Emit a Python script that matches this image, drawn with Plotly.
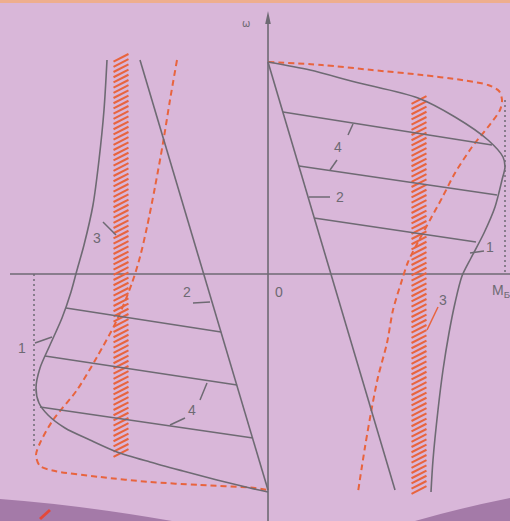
import numpy as np
import plotly.graph_objects as go

# Torque–speed characteristics, units: M (torque) horizontal, omega (speed) vertical
GRAY = "#6e6a73"
RED = "#e8643e"
BG = "#d9b7d9"

# ---------- right half (motor mode) ----------
r_curve1_M = [0.00, 0.42, 0.87, 1.50, 1.87, 2.20, 2.35, 2.37, 2.34, 2.27, 2.16, 2.03,
              1.94, 1.87, 1.81, 1.75, 1.70, 1.65, 1.63]
r_curve1_w = [2.12, 2.04, 1.92, 1.76, 1.57, 1.34, 1.17, 1.07, 0.94, 0.67, 0.41, 0.16,
              -0.02, -0.29, -0.59, -0.96, -1.36, -1.86, -2.18]

r_line2_M = [0.00, 1.27]
r_line2_w = [2.12, -2.16]

r_dash_M = [0.00, 0.54, 1.04, 1.54, 1.94, 2.20, 2.31, 2.34, 2.32, 2.20, 2.04, 1.87,
            1.74, 1.62, 1.50, 1.40, 1.34, 1.25, 1.19, 1.10, 1.04, 0.97, 0.90]
r_dash_w = [2.12, 2.09, 2.04, 1.99, 1.94, 1.89, 1.83, 1.74, 1.64, 1.47, 1.27, 1.01,
            0.76, 0.54, 0.32, 0.12, -0.06, -0.36, -0.69, -1.03, -1.33, -1.73, -2.18]

r_band_M = 1.51
r_band_w = [1.77, -2.16]

r_rungs_M = [[0.15, 2.24], [0.31, 2.29], [0.46, 2.08]]
r_rungs_w = [[1.62, 1.29], [1.08, 0.79], [0.56, 0.32]]

r_dotted_M = [2.37, 2.37]
r_dotted_w = [1.74, 0.02]

# ---------- left half (reverse / braking) ----------
l_curve1_M = [-1.61, -1.64, -1.69, -1.75, -1.84, -1.91, -1.97, -2.06, -2.18, -2.28,
              -2.32, -2.29, -2.20, -2.03, -1.78, -1.51, -1.18, -0.85, -0.51, -0.18, 0.00]
l_curve1_w = [2.14, 1.64, 1.14, 0.69, 0.29, 0.04, -0.18, -0.44, -0.71, -0.94,
              -1.14, -1.29, -1.41, -1.54, -1.66, -1.78, -1.88, -1.97, -2.06, -2.14, -2.18]

l_line2_M = [-1.28, 0.00]
l_line2_w = [2.14, -2.16]

l_dash_M = [-0.91, -0.98, -1.05, -1.13, -1.21, -1.28, -1.36, -1.51, -1.71, -1.91,
            -2.15, -2.28, -2.32, -2.28, -2.13, -1.68, -1.18, -0.68, -0.13, 0.00]
l_dash_w = [2.14, 1.74, 1.31, 0.87, 0.47, 0.17, -0.09, -0.46, -0.83, -1.16,
            -1.46, -1.69, -1.81, -1.92, -1.97, -2.03, -2.08, -2.11, -2.14, -2.16]

l_band_M = -1.47
l_band_w = [2.17, -1.79]

l_rungs_M = [[-2.02, -0.47], [-2.23, -0.31], [-2.28, -0.15]]
l_rungs_w = [[-0.34, -0.58], [-0.82, -1.11], [-1.33, -1.64]]

l_dotted_M = [-2.34, -2.34]
l_dotted_w = [0.00, -1.74]

# curve number labels: (text, M, omega)
labels = [("4", 0.70, 1.27), ("2", 0.72, 0.77), ("1", 2.22, 0.27), ("3", 1.75, -0.26),
          ("4", -0.76, -1.36), ("2", -0.81, -0.18), ("1", -2.46, -0.74), ("3", -1.71, 0.36)]
# leader strokes: (M0, w0, M1, w1, colour)
leaders = [(0.85, 1.50, 0.80, 1.39, GRAY), (0.69, 1.14, 0.62, 1.04, GRAY),
           (0.41, 0.77, 0.62, 0.77, GRAY), (2.02, 0.21, 2.16, 0.23, GRAY),
           (1.70, -0.33, 1.59, -0.56, RED),
           (-0.61, -1.09, -0.68, -1.26, GRAY), (-0.83, -1.44, -0.98, -1.51, GRAY),
           (-0.75, -0.29, -0.58, -0.28, GRAY), (-2.33, -0.69, -2.16, -0.63, GRAY),
           (-1.65, 0.52, -1.52, 0.39, GRAY)]

HATCH_PITCH = 0.052
AXIS_TOP = 2.63

fig = go.Figure()


def line(x, y, color=GRAY, width=1.6, dash=None, shape="linear"):
    fig.add_trace(go.Scatter(x=x, y=y, mode="lines", hoverinfo="skip",
                             line=dict(color=color, width=width, dash=dash, shape=shape,
                                       smoothing=0.8)))


# axes
line([-2.58, 2.45], [0, 0], width=1.6)
line([0, 0], [-2.50, AXIS_TOP - 0.08], width=1.6)
# narrow arrowhead on the omega axis
fig.add_shape(type="path", xref="x", yref="y", line_width=0, fillcolor=GRAY,
              path=f"M 0 {AXIS_TOP} L 0.028 {AXIS_TOP - 0.13} L -0.028 {AXIS_TOP - 0.13} Z")

# dotted limit lines
line(r_dotted_M, r_dotted_w, width=1.5, dash="2px,3px")
line(l_dotted_M, l_dotted_w, width=1.5, dash="2px,3px")

# hatched bands (curve 3)
for bm, bw in ((r_band_M, r_band_w), (l_band_M, l_band_w)):
    ys = np.arange(bw[1], bw[0] + 1e-9, HATCH_PITCH)
    fig.add_trace(go.Scatter(x=[bm] * len(ys), y=ys, mode="markers", hoverinfo="skip",
                             marker=dict(symbol="line-ew", size=12, angle=-27,
                                         line=dict(color=RED, width=2.1))))

# dashed curves
line(r_dash_M, r_dash_w, color=RED, width=2, dash="6px,4px", shape="spline")
line(l_dash_M, l_dash_w, color=RED, width=2, dash="6px,4px", shape="spline")

# solid characteristics
line(r_curve1_M, r_curve1_w, shape="spline")
line(l_curve1_M, l_curve1_w, shape="spline")
line(r_line2_M, r_line2_w)
line(l_line2_M, l_line2_w)
for xs, ys in zip(r_rungs_M + l_rungs_M, r_rungs_w + l_rungs_w):
    line(xs, ys)

for x0, y0, x1, y1, c in leaders:
    line([x0, x1], [y0, y1], color=c, width=1.5)

for t, x, y in labels:
    fig.add_annotation(x=x, y=y, text=t, showarrow=False,
                       font=dict(family="Liberation Sans, Arial", size=14, color=GRAY))

fig.add_annotation(x=0.11, y=-0.18, text="0", showarrow=False,
                   font=dict(family="Liberation Sans, Arial", size=14, color=GRAY))
fig.add_annotation(x=2.22, y=-0.17, text="M<sub>Б</sub>", showarrow=False, xanchor="left",
                   font=dict(family="Liberation Sans, Arial", size=14, color=GRAY))
fig.add_annotation(x=-0.22, y=2.51, text="ω", showarrow=False,
                   font=dict(family="DejaVu Sans", size=10, color=GRAY))

# page edges
W, H = 510, 521
fig.add_shape(type="rect", xref="paper", yref="paper", x0=0, x1=1, y0=1 - 3 / H, y1=1,
              fillcolor="#eeae8e", line_width=0, layer="below")
fig.add_shape(type="path", xref="paper", yref="paper", layer="below", line_width=0,
              fillcolor="#a47aa8",
              path=f"M 0 {1-499/H} Q {80/W} {1-505/H} {172/W} 0 L 0 0 Z")
fig.add_shape(type="path", xref="paper", yref="paper", layer="below", line_width=0,
              fillcolor="#a47aa8",
              path=f"M {415/W} 0 Q {460/W} {1-508/H} 1 {1-498/H} L 1 0 Z")
fig.add_shape(type="line", xref="paper", yref="paper", x0=40 / W, y0=1 - 519 / H,
              x1=50 / W, y1=1 - 510 / H, line=dict(color="#e4483a", width=3))

fig.update_layout(width=W, height=H, margin=dict(l=0, r=0, t=0, b=0),
                  paper_bgcolor=BG, plot_bgcolor=BG, showlegend=False,
                  xaxis=dict(range=[-2.68, 2.42], visible=False, fixedrange=True),
                  yaxis=dict(range=[-2.47, 2.74], visible=False, fixedrange=True))

fig.write_html("out.html", config={"displayModeBar": False})
